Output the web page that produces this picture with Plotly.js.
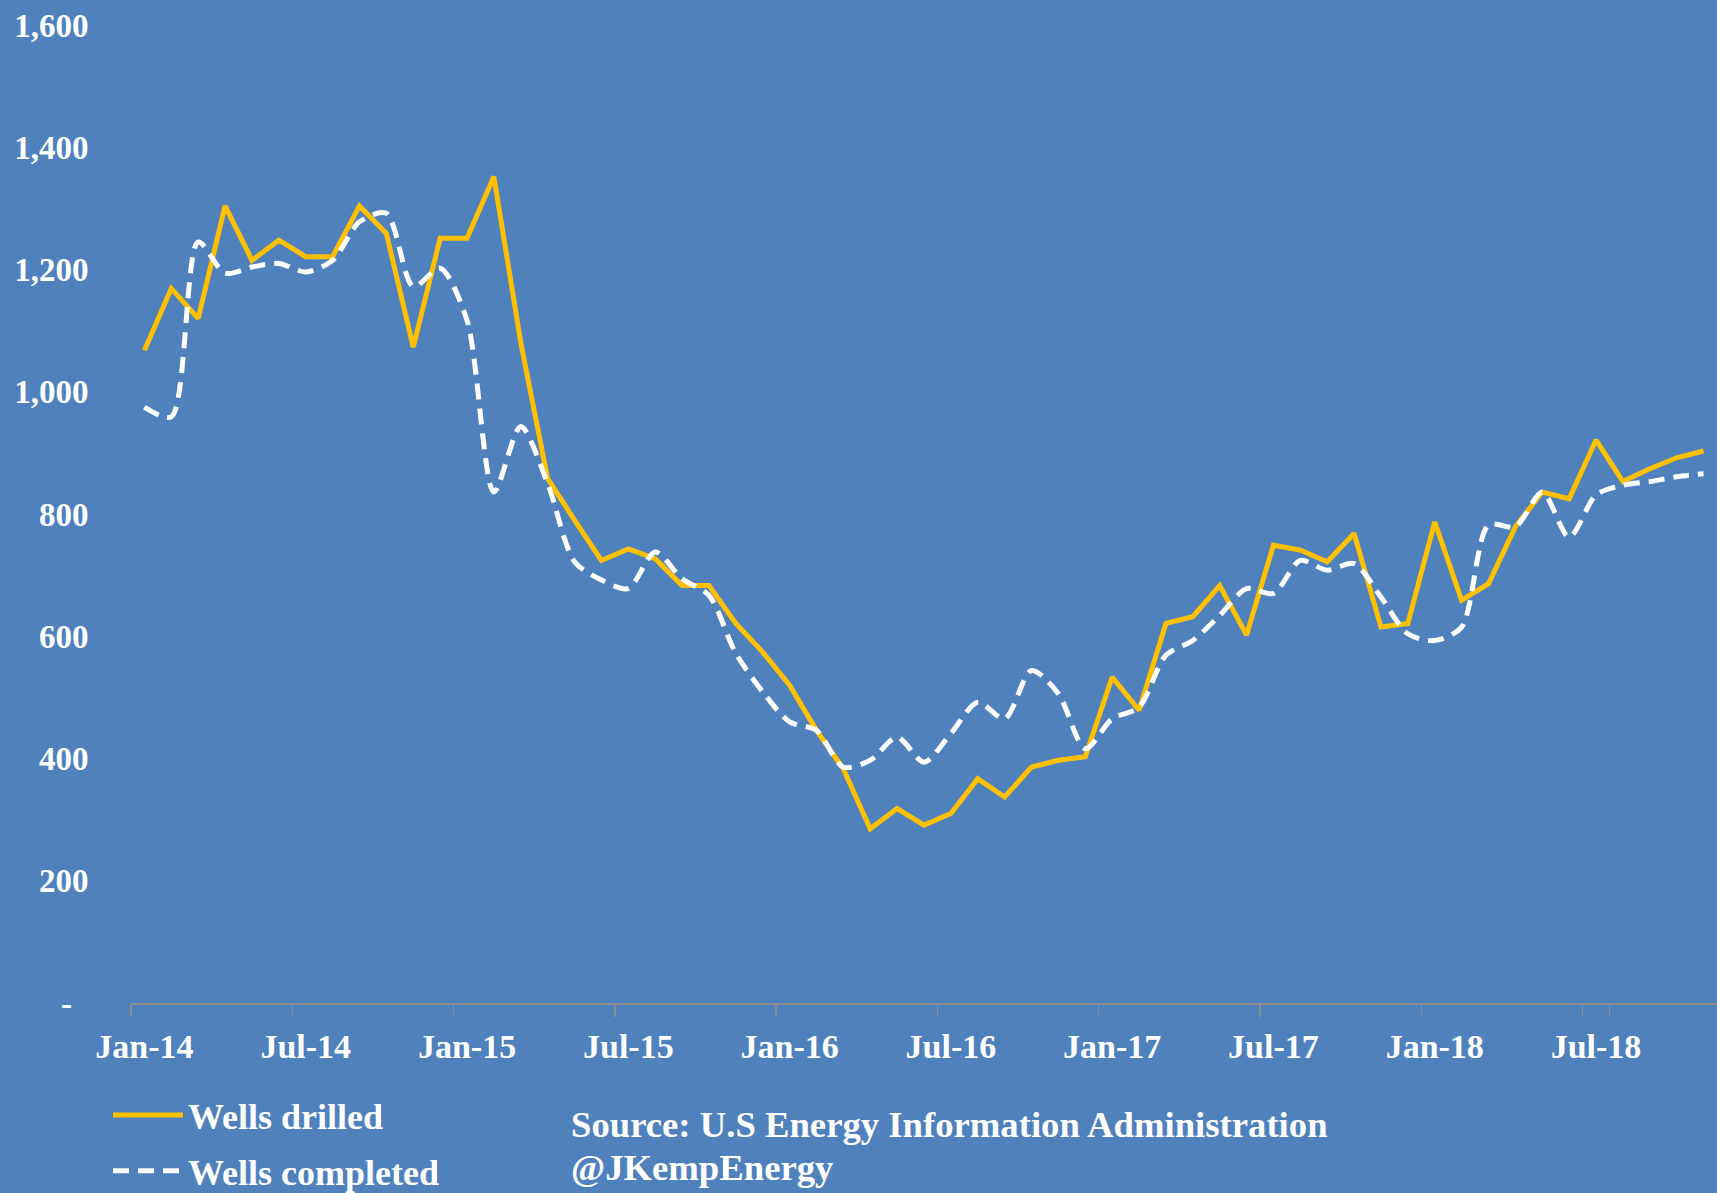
<!DOCTYPE html>
<html>
<head>
<meta charset="utf-8">
<script src="https://cdn.plot.ly/plotly-3.0.1.min.js"></script>
<style>
  html, body { margin: 0; padding: 0; background: #4F81BD; }
  #chart { width: 1717px; height: 1193px; }
</style>
</head>
<body>
<div id="chart"></div>
<script>
// Monthly categories
const months = [
  "Jan-14","Feb-14","Mar-14","Apr-14","May-14","Jun-14","Jul-14","Aug-14","Sep-14","Oct-14","Nov-14","Dec-14",
  "Jan-15","Feb-15","Mar-15","Apr-15","May-15","Jun-15","Jul-15","Aug-15","Sep-15","Oct-15","Nov-15","Dec-15",
  "Jan-16","Feb-16","Mar-16","Apr-16","May-16","Jun-16","Jul-16","Aug-16","Sep-16","Oct-16","Nov-16","Dec-16",
  "Jan-17","Feb-17","Mar-17","Apr-17","May-17","Jun-17","Jul-17","Aug-17","Sep-17","Oct-17","Nov-17","Dec-17",
  "Jan-18","Feb-18","Mar-18","Apr-18","May-18","Jun-18","Jul-18","Aug-18","Sep-18","Oct-18","Nov-18"
];

// Wells drilled (solid gold)
const wellsDrilled = [
  1068,1169,1120,1304,1215,1248,1221,1221,1304,1259,1073,1251,
  1251,1352,1080,858,790,724,743,727,683,683,621,574,
  520,446,383,285,318,291,310,367,337,386,397,403,
  533,479,621,632,683,602,749,741,722,768,615,621,
  787,659,686,779,836,825,921,853,874,892,903
];

// Wells completed (white dashed)
const wellsCompleted = [
  975,959,1245,1194,1204,1210,1196,1215,1278,1292,1172,1202,
  1117,836,943,850,722,692,678,738,694,667,572,509,
  460,446,386,397,435,394,441,492,465,544,506,416,
  465,484,569,593,634,678,670,724,708,719,664,604,
  593,615,782,779,836,762,831,847,853,861,866
];

// Axis tick labels
const xTickLabels = ["Jan-14","Jul-14","Jan-15","Jul-15","Jan-16","Jul-16","Jan-17","Jul-17","Jan-18","Jul-18"];
const yTickValues = [0,200,400,600,800,1000,1200,1400,1600];
const yTickLabels = ["-\u00a0\u00a0","200","400","600","800","1,000","1,200","1,400","1,600"];

const seriesNames = ["Wells drilled", "Wells completed"];
const sourceLines = ["Source: U.S Energy Information Administration", "@JKempEnergy"];

const FONT = "Liberation Serif, Times New Roman, serif";
const BG = "#4F81BD";

const traces = [
  {
    x: months, y: wellsDrilled, name: seriesNames[0], type: "scatter", mode: "lines",
    line: { color: "#FFC000", width: 5, shape: "linear" },
    legendgroup: "a"
  },
  {
    x: months, y: wellsCompleted, name: seriesNames[1], type: "scatter", mode: "lines",
    line: { color: "#FFFFFF", width: 5, dash: "16px,9px", shape: "spline", smoothing: 0.8 },
    legendgroup: "b"
  }
];

const layout = {
  width: 1717, height: 1193,
  paper_bgcolor: BG, plot_bgcolor: BG,
  margin: { l: 131, r: 0, t: 25, b: 190, pad: 0, autoexpand: false },
  font: { family: FONT, color: "#FFFFFF", size: 34, weight: "bold" },
  showlegend: true,
  legend: {
    x: -0.0145, xanchor: "left", y: -0.084, yanchor: "top",
    orientation: "v", bgcolor: "rgba(0,0,0,0)",
    font: { family: FONT, size: 36, color: "#FFFFFF", weight: "bold" },
    traceorder: "grouped", tracegroupgap: 6, itemwidth: 70
  },
  xaxis: {
    type: "category", range: [-0.5, 58.5],
    tickmode: "array", tickvals: xTickLabels, ticktext: xTickLabels,
    tickangle: 0,
    tickson: "boundaries", ticks: "outside", ticklen: 12, tickwidth: 1.5, tickcolor: "#8C8C8C",
    showline: true, linecolor: "#8C8C8C", linewidth: 2,
    showgrid: false, zeroline: false,
    ticklabelstandoff: 12,
    tickfont: { family: FONT, size: 34, color: "#FFFFFF", weight: "bold" },
    fixedrange: true
  },
  yaxis: {
    range: [0, 1600],
    tickmode: "array", tickvals: yTickValues, ticktext: yTickLabels,
    ticks: "outside", ticklen: 35, tickcolor: "rgba(0,0,0,0)",
    showline: false, showgrid: false, zeroline: false,
    tickfont: { family: FONT, size: 33, color: "#FFFFFF", weight: "bold" },
    fixedrange: true
  },
  annotations: [
    {
      xref: "paper", yref: "paper", x: 0.276, y: -0.1245,
      xanchor: "left", yanchor: "middle", align: "left",
      showarrow: false, text: sourceLines[0],
      font: { family: FONT, size: 36.7, color: "#FFFFFF", weight: "bold" }
    },
    {
      xref: "paper", yref: "paper", x: 0.276, y: -0.1682,
      xanchor: "left", yanchor: "middle", align: "left",
      showarrow: false, text: sourceLines[1],
      font: { family: FONT, size: 36.7, color: "#FFFFFF", weight: "bold" }
    }
  ]
};

Plotly.newPlot("chart", traces, layout, { staticPlot: true, displayModeBar: false });
</script>
</body>
</html>
